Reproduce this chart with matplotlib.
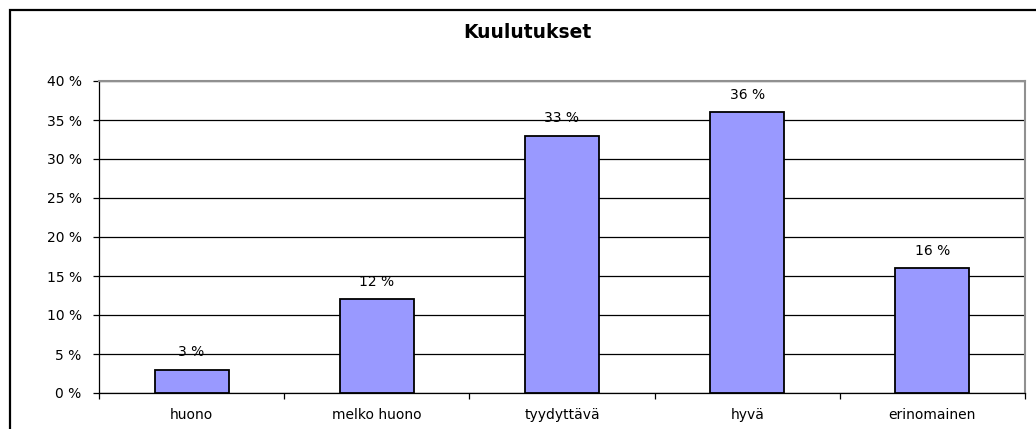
import matplotlib
matplotlib.use("Agg")
import matplotlib.pyplot as plt
from matplotlib.patches import Rectangle
from matplotlib.ticker import MultipleLocator, FuncFormatter

# data
categories = ["huono", "melko huono", "tyydyttävä", "hyvä", "erinomainen"]
values = [3, 12, 33, 36, 16]
title = "Kuulutukset"

# the reference text is wide, DejaVu is the widest sans at hand
plt.rcParams['font.family'] = ['DejaVu Sans']

W, H = 1036, 429
fig = plt.figure(figsize=(W / 100, H / 100), dpi=100)
ax = fig.add_axes([99 / W, (H - 393) / H, (1025 - 99) / W, (393 - 81) / H])

x = range(len(categories))
ax.bar(x, values, width=0.4, color="#9999ff", edgecolor="black",
       linewidth=1.3, zorder=3)

for xi, v in zip(x, values):
    ax.annotate(f"{v} %", (xi, v), xytext=(0, 12.5), textcoords="offset points",
                ha="center", va="center", fontsize=10, zorder=4)

ax.set_xlim(-0.5, len(categories) - 0.5)
ax.set_ylim(0, 40)
ax.yaxis.set_major_locator(MultipleLocator(5))
ax.yaxis.set_major_formatter(FuncFormatter(lambda v, p: f"{int(v)} %"))
ax.grid(axis="y", color="black", linewidth=0.9, zorder=0)

# category labels centered, ticks between categories
ax.set_xticks(list(x))
ax.set_xticklabels(categories, fontsize=10)
ax.tick_params(axis="x", length=0, pad=11)
ax.set_xticks([i - 0.5 for i in range(len(categories) + 1)], minor=True)
ax.tick_params(axis="x", which="minor", length=4.5, width=0.9, direction="out")
ax.tick_params(axis="y", length=4.5, width=0.9, pad=8, labelsize=10)

for side in ["top", "right"]:
    ax.spines[side].set_color("#909090")
    ax.spines[side].set_linewidth(1.5)
for side in ["left", "bottom"]:
    ax.spines[side].set_color("black")
    ax.spines[side].set_linewidth(0.9)

fig.text(527 / W, 1 - 33 / H, title, ha="center", va="center",
         fontsize=13.5, fontweight="bold")

# outer chart border (cropped at right and bottom)
fig.patches.append(Rectangle((9.5 / W, -0.1), 1.2, 1 - 9.5 / H + 0.1,
                             transform=fig.transFigure, fill=False,
                             edgecolor="black", linewidth=1.6))

fig.savefig("out.png", dpi=100)
